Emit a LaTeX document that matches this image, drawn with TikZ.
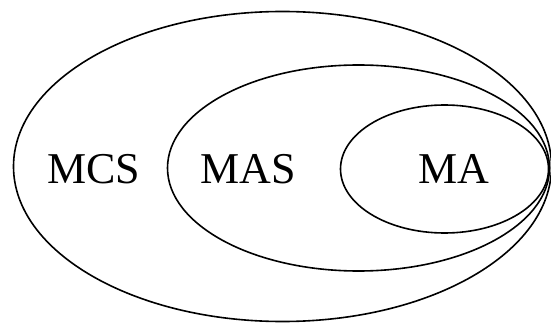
\documentclass[tikz,border=0pt]{standalone}
\usepackage{fontspec}
\setmainfont{Liberation Serif}
\begin{document}
\begin{tikzpicture}[x=1pt,y=-1pt,
  setline/.style={draw=black,line width=1.6pt},
  lbl/.style={font=\fontsize{44}{48}\selectfont,inner sep=0pt,anchor=base}]
\useasboundingbox (0,0) rectangle (551,323);
\draw[setline] (282.5,166.5) ellipse [x radius=269, y radius=155];
\draw[setline] (358.5,168) ellipse [x radius=191, y radius=103];
\draw[setline] (444.5,169) ellipse [x radius=104, y radius=64];
\node[lbl] (mcs) at (94,183) {MCS};
\node[lbl] (mas) at (248,183) {MAS};
\node[lbl] (ma) at (454,183) {MA};
\end{tikzpicture}
\end{document}
